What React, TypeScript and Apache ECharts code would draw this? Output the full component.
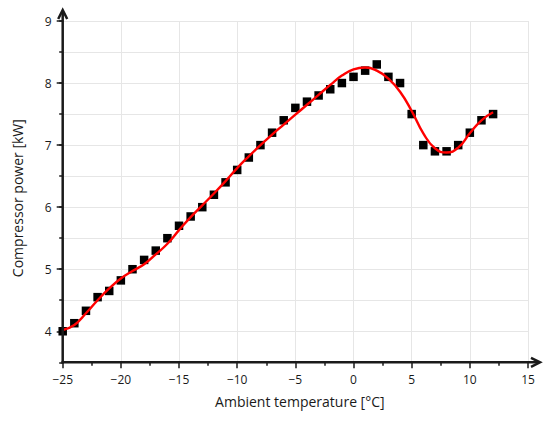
import React, { useEffect, useRef } from 'react';
import * as echarts from 'echarts';

// Ambient temperature [°C] at which each measurement was taken
const temps = [
  -25, -24, -23, -22, -21, -20, -19, -18, -17, -16, -15, -14, -13, -12, -11, -10, -9, -8, -7,
  -6, -5, -4, -3, -2, -1, 0, 1, 2, 3, 4, 5, 6, 7, 8, 9, 10, 11, 12,
];
// Measured compressor power [kW]
const measured = [
  4.0, 4.13, 4.33, 4.55, 4.65, 4.82, 5.0, 5.15, 5.3, 5.5, 5.7, 5.85, 6.0, 6.2, 6.4, 6.6, 6.8, 7.0,
  7.2, 7.4, 7.6, 7.7, 7.8, 7.9, 8.0, 8.1, 8.2, 8.3, 8.1, 8.0, 7.5, 7.0, 6.9, 6.9, 7.0, 7.2, 7.4, 7.5,
];
// Fitted curve [kW]
const fitted = [
  4.02, 4.1, 4.29, 4.5, 4.69, 4.85, 4.97, 5.08, 5.24, 5.41, 5.63, 5.84, 6.03, 6.22, 6.42, 6.63,
  6.82, 7.0, 7.17, 7.33, 7.49, 7.65, 7.81, 7.97, 8.12, 8.22, 8.25, 8.2, 8.07, 7.86, 7.55, 7.19,
  6.95, 6.88, 6.96, 7.19, 7.4, 7.53,
];
const yMajorTicks = [4, 5, 6, 7, 8, 9];

const X_MIN = -25;
const X_MAX = 15;
const Y_MIN = 3.5;
const Y_MAX = 9;

export default function App() {
  const ref = useRef<HTMLDivElement>(null);

  useEffect(() => {
    if (!ref.current) return;
    const chart = echarts.init(ref.current, null, { renderer: 'svg' });
    const font = "'Open Sans', sans-serif";
    const ink = '#1a1a1a';
    const tickStyle = { color: ink, width: 1.5 };
    const fmt = (v: number) => (v < 0 ? '\u2212' + Math.abs(v) : String(v));

    chart.setOption({
      animation: false,
      grid: { left: 62.7, right: 22, top: 21, bottom: 58.7, containLabel: false },
      xAxis: {
        type: 'value',
        min: X_MIN,
        max: X_MAX,
        interval: 5,
        name: 'Ambient temperature [°C]',
        nameLocation: 'middle',
        nameGap: 32,
        nameTextStyle: { fontFamily: font, fontSize: 14, color: ink, padding: [0, 0, 0, 9] },
        axisLine: { show: false, onZero: false },
        axisTick: { show: true, length: 6, lineStyle: tickStyle },
        minorTick: { show: true, splitNumber: 2, length: 3.5, lineStyle: tickStyle },
        splitLine: { show: true, lineStyle: { color: '#e6e6e6', width: 1 } },
        axisLabel: { margin: 11, fontSize: 12, color: ink, fontFamily: font, formatter: fmt },
      },
      yAxis: [
        {
          type: 'value',
          min: Y_MIN,
          max: Y_MAX,
          interval: 0.5,
          name: 'Compressor power [kW]',
          nameLocation: 'middle',
          nameGap: 38,
          nameTextStyle: { fontFamily: font, fontSize: 14, color: ink, padding: [0, 13, 0, 0] },
          axisLine: { show: false, onZero: false },
          axisTick: { show: true, length: 3.5, lineStyle: tickStyle },
          splitLine: { show: true, lineStyle: { color: '#e6e6e6', width: 1 } },
          axisLabel: {
            margin: 11,
            fontSize: 12,
            color: ink,
            fontFamily: font,
            formatter: (v: number) => (Number.isInteger(v) ? fmt(v) : ''),
          },
        },
        {
          type: 'value',
          min: Y_MIN,
          max: Y_MAX,
          position: 'left',
          axisLine: { show: false, onZero: false },
          axisTick: { show: true, length: 6, lineStyle: tickStyle, customValues: yMajorTicks },
          axisLabel: { show: false },
          splitLine: { show: false },
        },
      ],
      series: [
        {
          type: 'scatter',
          data: temps.map((t, i) => [t, measured[i]]),
          symbol: 'rect',
          symbolSize: 8.5,
          itemStyle: { color: '#000', opacity: 1 },
          z: 2,
        },
        {
          type: 'line',
          data: temps.map((t, i) => [t, fitted[i]]),
          smooth: 0.5,
          showSymbol: false,
          lineStyle: { color: '#ff0000', width: 2.4 },
          z: 3,
        },
      ],
    });

    const finder = { xAxisIndex: 0, yAxisIndex: 0 };
    const o = chart.convertToPixel(finder, [X_MIN, Y_MIN]) as number[];
    const xe = chart.convertToPixel(finder, [X_MAX, Y_MIN]) as number[];
    const ye = chart.convertToPixel(finder, [X_MIN, Y_MAX]) as number[];
    const xTip = xe[0] + 12;
    const yTip = ye[1] - 11;
    const axisStroke = { stroke: '#1a1a1a', lineWidth: 2.5, fill: 'none' };

    chart.setOption({
      graphic: [
        {
          type: 'line',
          z: 100,
          shape: { x1: o[0] - 1.25, y1: o[1], x2: xTip - 1, y2: o[1] },
          style: axisStroke,
        },
        {
          type: 'line',
          z: 100,
          shape: { x1: o[0], y1: o[1] + 1.25, x2: o[0], y2: yTip + 1 },
          style: axisStroke,
        },
        {
          type: 'polyline',
          z: 100,
          shape: {
            points: [
              [xTip - 9, o[1] - 4.5],
              [xTip, o[1]],
              [xTip - 9, o[1] + 4.5],
            ],
          },
          style: { ...axisStroke, lineJoin: 'miter' },
        },
        {
          type: 'polyline',
          z: 100,
          shape: {
            points: [
              [o[0] - 4.5, yTip + 9],
              [o[0], yTip],
              [o[0] + 4.5, yTip + 9],
            ],
          },
          style: { ...axisStroke, lineJoin: 'miter' },
        },
      ],
    });

    return () => chart.dispose();
  }, []);

  return (
    <div
      ref={ref}
      style={{ position: 'fixed', left: 0, top: 0, width: 550, height: 421, background: '#fff' }}
    />
  );
}
